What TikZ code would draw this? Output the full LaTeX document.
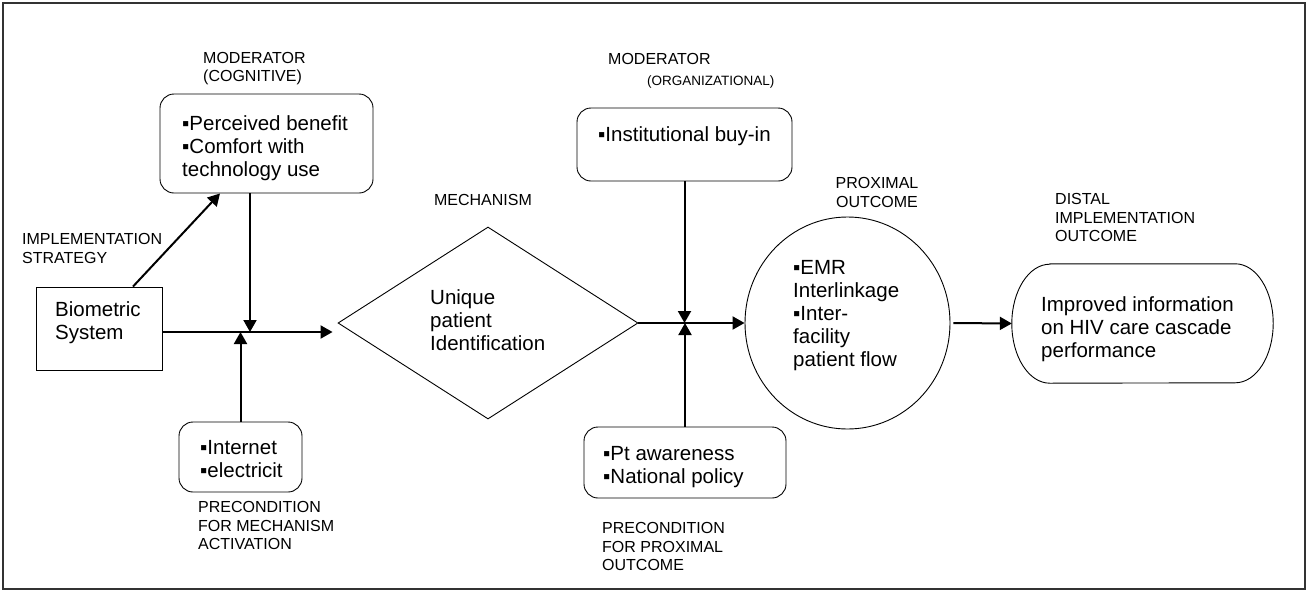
\documentclass[tikz,border=0pt]{standalone}
\usepackage{fontspec}
\setmainfont{Liberation Sans}
\usetikzlibrary{arrows.meta,shapes.geometric,calc}
\begin{document}
\begin{tikzpicture}[x=1pt,y=-1pt,
  box/.style={draw,rounded corners=14pt,line width=0.9pt,inner sep=0pt},
  plainbox/.style={draw,line width=0.9pt,inner sep=0pt},
  btxt/.style={font=\fontsize{20.5}{23}\selectfont,align=left,anchor=north west,inner sep=0pt},
  lbl/.style={font=\fontsize{16}{18.3}\selectfont,align=left,anchor=north west,inner sep=0pt},
  conn/.style={line width=2pt,-{Triangle[length=12pt,width=13pt]}},
  ]
\useasboundingbox (0,0) rectangle (1309,592);
\draw[line width=1.5pt, black!80] (3,3) rectangle (1305,589);

% shapes
\node[plainbox,minimum width=126pt,minimum height=83pt] (bio) at (99,328.5) {};
\node[box,minimum width=213pt,minimum height=99pt] (cog) at (266.5,143.5) {};
\node[box,minimum width=123pt,minimum height=70pt] (net) at (240.5,457) {};
\node[draw,diamond,aspect=1.5625,minimum width=300pt,minimum height=192pt,inner sep=0pt,line width=0.9pt] (dia) at (488,323) {};
\node[box,minimum width=215pt,minimum height=73pt] (org) at (684.5,144.5) {};
\node[box,minimum width=202pt,minimum height=71pt] (pt) at (685,462.5) {};
\node[draw,ellipse,minimum width=205pt,minimum height=212pt,inner sep=0pt,line width=0.9pt] (circ) at (847.5,323) {};
\node[minimum width=261pt,minimum height=119pt,inner sep=0pt] (dist) at (1142.5,323.5) {};
\draw[line width=0.9pt] ([xshift=38pt]dist.north west) -- ([xshift=-38pt]dist.north east)
  arc[start angle=90,end angle=-90,x radius=38pt,y radius=59.5pt]
  -- ([xshift=38pt]dist.south west)
  arc[start angle=270,end angle=90,x radius=38pt,y radius=59.5pt] -- cycle;

% connectors
\coordinate (j1) at (250,332);
\coordinate (j2) at (684.5,323);
\draw[conn] ([xshift=34pt]bio.north) -- ([xshift=-46.5pt]cog.south);
\draw[conn] (bio.east |- j1) -- ([yshift=-9pt,xshift=-5pt]dia.west);
\draw[conn] (cog.south -| j1) -- (j1);
\draw[conn] (net.north) -- (net.north |- j1);
\draw[conn] (dia.east) -- (circ.west);
\draw[conn] (org.south) -- (j2);
\draw[conn] (pt.north) -- (pt.north |- j2);
\draw[conn] ([xshift=3pt]circ.east) -- (dist.west);

% texts in shapes
\node[btxt] (biot) at (55,301) {Biometric\\System};
\node[btxt] (cogt) at (182,115) {▪Perceived benefit\\▪Comfort with\\technology use};
\node[btxt] (nett) at (200,440) {▪Internet\\▪electricit};
\node[btxt] (diat) at (430,289) {Unique\\patient\\Identification};
\node[btxt] (orgt) at (598,126) {▪Institutional buy-in};
\node[btxt] (ptt) at (603,446) {▪Pt awareness\\▪National policy};
\node[btxt] (circt) at (793,260) {▪EMR\\Interlinkage\\▪Inter-\\facility\\patient flow};
\node[btxt] (distt) at (1041,296) {Improved information\\on HIV care cascade\\performance};

% labels
\node[lbl] (l1) at (203,52) {MODERATOR\\(COGNITIVE)};
\node[lbl] (l2) at (22,233.5) {IMPLEMENTATION\\STRATEGY};
\node[lbl] (l3) at (198,501.5) {PRECONDITION\\FOR MECHANISM\\ACTIVATION};
\node[lbl,anchor=center] (l4) at (483,200) {MECHANISM};
\node[lbl] (l5) at (608,53.5) {MODERATOR};
\node[lbl,font=\fontsize{13.5}{16}\selectfont] (l6) at (647,76) {(ORGANIZATIONAL)};
\node[lbl,align=center,anchor=north] (l7) at (877,177.5) {PROXIMAL\\OUTCOME};
\node[lbl] (l8) at (1055,193.5) {DISTAL\\IMPLEMENTATION\\OUTCOME};
\node[lbl] (l9) at (602,522.5) {PRECONDITION\\FOR PROXIMAL\\OUTCOME};
\end{tikzpicture}
\end{document}
